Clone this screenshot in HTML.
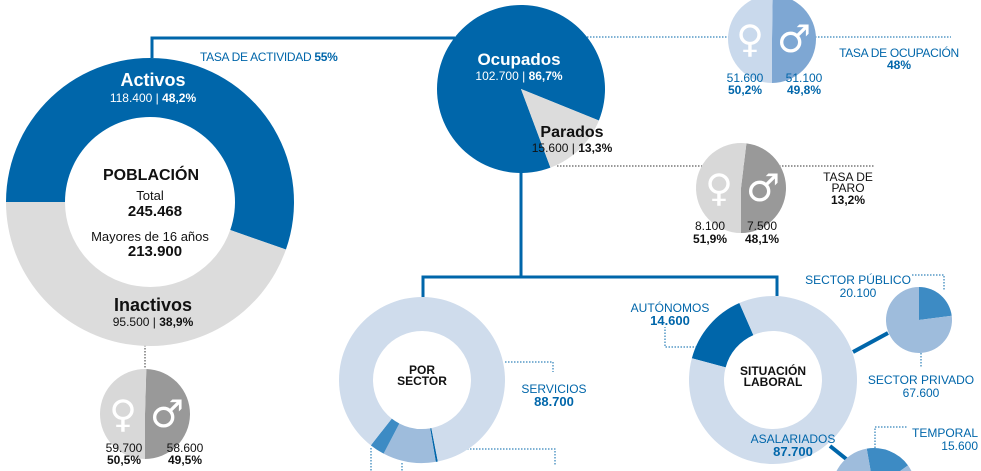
<!DOCTYPE html>
<html><head><meta charset="utf-8">
<style>
html,body{margin:0;padding:0;background:#fff;width:981px;height:471px;overflow:hidden;}
svg{display:block;overflow:hidden;font-family:"Liberation Sans","DejaVu Sans",sans-serif;}
.c{letter-spacing:-0.3px}
</style></head>
<body>
<svg id="chart" width="981" height="471" viewBox="0 0 981 471" xmlns="http://www.w3.org/2000/svg">
<defs><clipPath id="frame"><rect width="981" height="471"/></clipPath></defs>
<g clip-path="url(#frame)">
<rect width="981" height="471" fill="#ffffff"/>
<g id="lines">
  <polyline points="152,58 152,38 455,38" fill="none" stroke="#0066aa" stroke-width="3"/>
  <line x1="521" y1="172" x2="521" y2="277" stroke="#0066aa" stroke-width="3"/>
  <polyline points="423,297 423,277 777,277 777,296" fill="none" stroke="#0066aa" stroke-width="3"/>
  <line x1="587" y1="37" x2="951" y2="37" stroke="#0066aa" stroke-width="1" stroke-dasharray="1.5,1.5"/>
  <line x1="557" y1="166" x2="875" y2="166" stroke="#333" stroke-width="1" stroke-dasharray="1.5,1.5"/>
  <line x1="145" y1="345" x2="145" y2="370" stroke="#333" stroke-width="1" stroke-dasharray="1.5,1.5"/>
  <polyline points="505,362 553,362 553,372" fill="none" stroke="#0066aa" stroke-width="1" stroke-dasharray="1.5,1.5"/>
  <polyline points="437,449 555,449 555,466" fill="none" stroke="#0066aa" stroke-width="1" stroke-dasharray="1.5,1.5"/>
  <line x1="371" y1="448" x2="371" y2="471" stroke="#0066aa" stroke-width="1" stroke-dasharray="1.5,1.5"/>
  <line x1="402" y1="463" x2="402" y2="471" stroke="#0066aa" stroke-width="1" stroke-dasharray="1.5,1.5"/>
  <polyline points="697,347 665,347 665,327" fill="none" stroke="#0066aa" stroke-width="1" stroke-dasharray="1.5,1.5"/>
  <polyline points="912,275 944,275 944,290" fill="none" stroke="#0066aa" stroke-width="1" stroke-dasharray="1.5,1.5"/>
  <line x1="921" y1="353" x2="921" y2="368" stroke="#0066aa" stroke-width="1" stroke-dasharray="1.5,1.5"/>
  <polyline points="875,448 875,427 907,427" fill="none" stroke="#0066aa" stroke-width="1" stroke-dasharray="1.5,1.5"/>
  <line x1="853" y1="352" x2="888" y2="333" stroke="#0066aa" stroke-width="4"/>
  <line x1="830" y1="446" x2="850" y2="462" stroke="#0066aa" stroke-width="4"/>
</g>
<g id="marks"></g>
<g id="labels">
  <text x="200" y="61" font-size="12" fill="#0066aa" class="c">TASA DE ACTIVIDAD <tspan font-weight="bold">55%</tspan></text>
  <text x="153" y="86" font-size="18" font-weight="bold" fill="#fff" text-anchor="middle">Activos</text>
  <text x="153" y="102" font-size="12" fill="#fff" text-anchor="middle">118.400 | <tspan font-weight="bold">48,2%</tspan></text>
  <text x="151" y="180" font-size="16" font-weight="bold" fill="#111" text-anchor="middle">POBLACIÓN</text>
  <text x="150" y="200" font-size="13" fill="#111" text-anchor="middle">Total</text>
  <text x="155" y="216" font-size="15" font-weight="bold" fill="#111" text-anchor="middle">245.468</text>
  <text x="150" y="241" font-size="13" fill="#111" text-anchor="middle">Mayores de 16 años</text>
  <text x="155" y="256" font-size="15" font-weight="bold" fill="#111" text-anchor="middle">213.900</text>
  <text x="153" y="311" font-size="18" font-weight="bold" fill="#111" text-anchor="middle">Inactivos</text>
  <text x="153" y="326" font-size="12" fill="#111" text-anchor="middle">95.500 | <tspan font-weight="bold">38,9%</tspan></text>
  <text x="519" y="65" font-size="17" font-weight="bold" fill="#fff" text-anchor="middle">Ocupados</text>
  <text x="519" y="80" font-size="12" fill="#fff" text-anchor="middle">102.700 | <tspan font-weight="bold">86,7%</tspan></text>
  <text x="572" y="137" font-size="16" font-weight="bold" fill="#111" text-anchor="middle">Parados</text>
  <text x="572" y="152" font-size="12" fill="#111" text-anchor="middle">15.600 | <tspan font-weight="bold">13,3%</tspan></text>
  <text x="899" y="57" font-size="12" fill="#0066aa" text-anchor="middle" class="c">TASA DE OCUPACIÓN</text>
  <text x="899" y="69" font-size="12" font-weight="bold" fill="#0066aa" text-anchor="middle">48%</text>
  <text x="745" y="82" font-size="12" fill="#0066aa" text-anchor="middle">51.600</text>
  <text x="745" y="94" font-size="12" font-weight="bold" fill="#0066aa" text-anchor="middle">50,2%</text>
  <text x="804" y="82" font-size="12" fill="#0066aa" text-anchor="middle">51.100</text>
  <text x="804" y="94" font-size="12" font-weight="bold" fill="#0066aa" text-anchor="middle">49,8%</text>
  <text x="848" y="181" font-size="12" fill="#111" text-anchor="middle">TASA DE</text>
  <text x="848" y="192" font-size="12" fill="#111" text-anchor="middle">PARO</text>
  <text x="848" y="204" font-size="12" font-weight="bold" fill="#111" text-anchor="middle">13,2%</text>
  <text x="710" y="230" font-size="12" fill="#111" text-anchor="middle">8.100</text>
  <text x="710" y="243" font-size="12" font-weight="bold" fill="#111" text-anchor="middle">51,9%</text>
  <text x="762" y="230" font-size="12" fill="#111" text-anchor="middle">7.500</text>
  <text x="762" y="243" font-size="12" font-weight="bold" fill="#111" text-anchor="middle">48,1%</text>
  <text x="124" y="452" font-size="12" fill="#111" text-anchor="middle">59.700</text>
  <text x="124" y="464" font-size="12" font-weight="bold" fill="#111" text-anchor="middle">50,5%</text>
  <text x="185" y="452" font-size="12" fill="#111" text-anchor="middle">58.600</text>
  <text x="185" y="464" font-size="12" font-weight="bold" fill="#111" text-anchor="middle">49,5%</text>
  <text x="422" y="374" font-size="12" font-weight="bold" fill="#111" text-anchor="middle">POR</text>
  <text x="422" y="385" font-size="12" font-weight="bold" fill="#111" text-anchor="middle">SECTOR</text>
  <text x="554" y="393" font-size="12" fill="#0066aa" text-anchor="middle">SERVICIOS</text>
  <text x="554" y="406" font-size="13" font-weight="bold" fill="#0066aa" text-anchor="middle">88.700</text>
  <text x="773" y="375" font-size="12" font-weight="bold" fill="#111" text-anchor="middle">SITUACIÓN</text>
  <text x="773" y="386" font-size="12" font-weight="bold" fill="#111" text-anchor="middle">LABORAL</text>
  <text x="670" y="312" font-size="12" fill="#0066aa" text-anchor="middle">AUTÓNOMOS</text>
  <text x="670" y="325" font-size="13" font-weight="bold" fill="#0066aa" text-anchor="middle">14.600</text>
  <text x="793" y="443" font-size="12" fill="#0066aa" text-anchor="middle">ASALARIADOS</text>
  <text x="793" y="456" font-size="13" font-weight="bold" fill="#0066aa" text-anchor="middle">87.700</text>
  <text x="858" y="284" font-size="12" fill="#0066aa" text-anchor="middle">SECTOR PÚBLICO</text>
  <text x="858" y="297" font-size="12" fill="#0066aa" text-anchor="middle">20.100</text>
  <text x="921" y="384" font-size="12" fill="#0066aa" text-anchor="middle">SECTOR PRIVADO</text>
  <text x="921" y="397" font-size="12" fill="#0066aa" text-anchor="middle">67.600</text>
  <text x="978" y="437" font-size="12" fill="#0066aa" text-anchor="end">TEMPORAL</text>
  <text x="978" y="450" font-size="12" fill="#0066aa" text-anchor="end">15.600</text>
</g>
</g>
</svg>
<script>
// Data arrays
const poblacionCats = ["Activos", "Inactivos"];
const poblacionVals = [118400, 95500];
const ocupCats = ["Ocupados", "Parados"];
const ocupVals = [102700, 15600];
const sexoOcupVals = [51600, 51100];
const sexoParoVals = [8100, 7500];
const sexoInactVals = [59700, 58600];
const sectorCats = ["agricultura", "industria", "construccion", "servicios"];
const sectorVals = [400, 10600, 3000, 88700];
const situacionCats = ["autonomos", "asalariados"];
const situacionVals = [14600, 87700];
const publicoCats = ["publico", "privado"];
const publicoVals = [20100, 67600];
const contratoCats = ["temporal", "indefinido"];
const contratoVals = [15600, 72100];

const NS = "http://www.w3.org/2000/svg";
const marks = document.getElementById("marks");
function pt(cx, cy, r, a) { const t = a * Math.PI / 180; return [cx + r * Math.cos(t), cy + r * Math.sin(t)]; }
function arcPath(cx, cy, r0, r1, a0, a1) {
  if (a1 - a0 >= 359.99) a1 = a0 + 359.99;
  const large = (a1 - a0) > 180 ? 1 : 0;
  const p0 = pt(cx, cy, r1, a0), p1 = pt(cx, cy, r1, a1);
  if (r0 <= 0) return `M${cx},${cy}L${p0[0]},${p0[1]}A${r1},${r1} 0 ${large} 1 ${p1[0]},${p1[1]}Z`;
  const q0 = pt(cx, cy, r0, a1), q1 = pt(cx, cy, r0, a0);
  return `M${p0[0]},${p0[1]}A${r1},${r1} 0 ${large} 1 ${p1[0]},${p1[1]}L${q0[0]},${q0[1]}A${r0},${r0} 0 ${large} 0 ${q1[0]},${q1[1]}Z`;
}
function drawPie(name, cats, vals, cx, cy, r0, r1, start, colors) {
  const total = vals.reduce((a, b) => a + b, 0);
  let a = start;
  const g = document.createElementNS(NS, "g");
  
  
  vals.forEach((v, i) => {
    const span = v / total * 360;
    const p = document.createElementNS(NS, "path");
    p.setAttribute("d", arcPath(cx, cy, r0, r1, a, a + span));
    p.setAttribute("fill", colors[i]);
    
    
    g.appendChild(p);
    a += span;
  });
  marks.appendChild(g);
}
function symbols(cx, cy, dx) {
  [["\u2640", cx - dx, "female-symbol"], ["\u2642", cx + dx, "male-symbol"]].forEach(s => {
    const t = document.createElementNS(NS, "text");
    t.setAttribute("x", s[1]); t.setAttribute("y", cy + 13);
    t.setAttribute("font-size", "38"); t.setAttribute("fill", "#fff");
    t.setAttribute("text-anchor", "middle");
    t.setAttribute("font-family", "DejaVu Sans, sans-serif");
    t.textContent = s[0];
    
    
    marks.appendChild(t);
  });
}
drawPie("poblacion-donut", poblacionCats, poblacionVals, 150, 202, 85, 144, 180, ["#0066aa", "#dcdcdc"]);
(function(){
  const tot = ocupVals[0] + ocupVals[1];
  const startParados = 22;
  const start = startParados + ocupVals[1] / tot * 360;
  drawPie("ocupados-pie", ocupCats, ocupVals, 521, 89, 0, 84, start, ["#0066aa", "#dcdcdc"]);
})();
function genderPie(name, vals, cx, cy, r, colors) {
  const tot = vals[0] + vals[1];
  drawPie(name, ["hombres", "mujeres"], [vals[1], vals[0]], cx, cy, 0, r, 270 - (vals[1] / tot - 0.5) * 360, [colors[1], colors[0]]);
  symbols(cx, cy, 22);
}
genderPie("ocupacion-sexo-pie", sexoOcupVals, 772, 39, 44, ["#c9d9ec", "#7ea7d3"]);
genderPie("paro-sexo-pie", sexoParoVals, 741, 188, 45, ["#d8d8d8", "#999999"]);
genderPie("inactivos-sexo-pie", sexoInactVals, 145, 414, 45, ["#d8d8d8", "#999999"]);
drawPie("sector-donut", sectorCats, sectorVals, 422, 380, 49, 83, 79, ["#0066aa", "#9ebcdc", "#3d8bc4", "#cfdcec"]);
drawPie("situacion-donut", situacionCats, situacionVals, 773, 380, 49, 84, 195, ["#0066aa", "#cfdcec"]);
drawPie("publico-privado-pie", publicoCats, publicoVals, 919, 320, 0, 33, -90, ["#3d8bc4", "#9ebcdc"]);
drawPie("contrato-pie", contratoCats, contratoVals, 874, 490, 0, 42, -100, ["#3d8bc4", "#9ebcdc"]);
</script>
</body></html>
